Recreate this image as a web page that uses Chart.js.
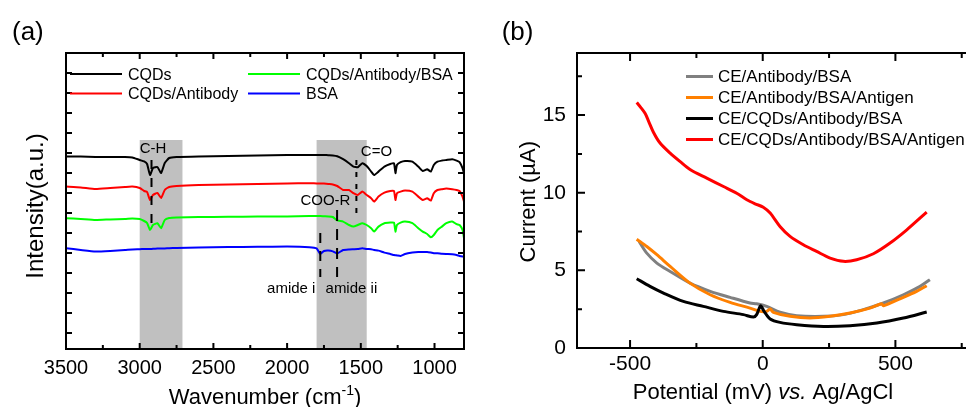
<!DOCTYPE html>
<html><head><meta charset="utf-8">
<script src="https://cdn.jsdelivr.net/npm/chart.js@4.4.0/dist/chart.umd.min.js"></script>
<style>
html,body{margin:0;padding:0;background:#fff;overflow:hidden;width:966px;height:407px;}
#wa{position:absolute;left:0;top:0;width:490px;height:407px;}
#wb{position:absolute;left:490px;top:0;width:520px;height:407px;}
</style></head><body>
<div id="wa"><canvas id="ca" width="490" height="407"></canvas></div>
<div id="wb"><canvas id="cb" width="520" height="407"></canvas></div>
<script>
// ---------- Panel (a): FTIR ----------
const wavenumbers = [3500,3400,3300,3200,3100,3050,3000,2970,2950,2930,2910,2880,2855,2830,2800,2750,2600,2400,2200,2000,1850,1800,1775,1750,1720,1690,1660,1620,1580,1550,1520,1490,1460,1430,1410,1380,1340,1300,1275,1265,1255,1230,1200,1150,1110,1080,1050,1025,1005,980,950,920,880,850,830,810,800];
const cqds = [8.82,8.82,8.80,8.80,8.80,8.78,8.65,8.58,8.45,7.90,8.25,8.30,8.00,8.50,8.75,8.80,8.83,8.85,8.88,8.90,8.90,8.90,8.90,8.90,8.89,8.88,8.84,8.69,8.49,8.32,8.29,8.49,8.35,8.07,7.90,8.07,8.32,8.45,8.49,7.99,8.40,8.54,8.60,8.57,8.32,8.10,8.19,8.07,8.40,8.57,8.62,8.65,8.69,8.62,8.54,8.24,7.99];
const cqdsAntibody = [7.32,7.28,7.20,7.25,7.30,7.32,7.25,7.10,7.05,6.65,6.90,7.00,6.75,7.15,7.30,7.35,7.40,7.43,7.45,7.48,7.49,7.48,7.48,7.47,7.45,7.43,7.35,7.15,7.15,6.99,6.90,7.07,6.90,6.74,6.57,6.82,7.02,7.10,7.10,6.65,6.99,7.07,7.12,7.07,6.82,6.65,6.74,6.62,6.99,7.15,7.19,7.22,7.19,7.15,7.10,6.82,6.57];
const cqdsAntibodyBsa = [5.74,5.70,5.65,5.68,5.70,5.73,5.70,5.60,5.50,5.15,5.40,5.49,5.24,5.65,5.75,5.78,5.80,5.81,5.82,5.82,5.85,5.85,5.85,5.84,5.83,5.80,5.63,5.57,5.40,5.32,5.40,5.49,5.40,5.24,5.07,5.32,5.49,5.52,5.52,5.07,5.40,5.52,5.57,5.49,5.24,5.07,4.95,4.79,4.90,5.15,5.32,5.49,5.57,5.44,5.40,5.15,4.74];
const bsa = [4.24,4.15,4.07,4.10,4.15,4.18,4.19,4.20,4.20,4.20,4.21,4.22,4.23,4.23,4.24,4.25,4.28,4.30,4.31,4.32,4.29,4.23,3.95,4.10,4.12,4.08,3.98,4.15,4.18,4.19,4.20,4.24,4.20,4.19,4.15,4.12,4.02,3.95,3.90,3.89,3.88,3.85,3.95,4.02,4.05,4.05,4.05,4.02,3.99,3.99,3.96,3.95,3.94,3.90,3.85,3.82,3.82];
const ftirLabels = ['CQDs','CQDs/Antibody','CQDs/Antibody/BSA','BSA'];
const ftirColors = ['#000000','#ff0000','#00ff00','#0000ff'];
const ftirXTicks = [3500,3250,3000,2750,2500,2250,2000,1750,1500,1250,1000];
const ftirXLabels = [3500,3000,2500,2000,1500,1000];
const ftirYTicks = [0,1,2,3,4,5,6,7,8,9,10,11,12,13];

// ---------- Panel (b): CV ----------
const abBsaV = [-466,-437,-399,-349,-274,-198,-123,-48,-23,15,65,128,229,304,379,455,530,593,630];
const abBsaI = [6.86,6.11,5.47,4.93,4.18,3.65,3.26,2.90,2.85,2.68,2.30,2.08,2.04,2.15,2.47,2.90,3.43,3.97,4.40];
const abBsaAgV = [-475,-437,-399,-349,-274,-198,-123,-48,-10,15,28,40,103,178,254,329,404,448,455,517,580,618];
const abBsaAgI = [7.01,6.54,6.01,5.26,4.18,3.43,2.94,2.57,2.36,2.36,2.51,2.30,2.04,1.93,2.04,2.25,2.57,2.85,2.72,3.17,3.65,4.01];
const cqdAbBsaV = [-475,-425,-374,-299,-224,-148,-73,-35,-23,-8,5,28,65,128,229,329,430,530,618];
const cqdAbBsaI = [4.46,3.97,3.54,3.00,2.68,2.36,2.15,1.99,2.15,2.72,2.36,1.87,1.65,1.50,1.39,1.44,1.61,1.93,2.32];
const cqdAbBsaAgV = [-475,-460,-443,-430,-412,-387,-349,-311,-274,-211,-148,-98,-60,-29,2,28,65,103,153,203,254,304,354,417,480,543,618];
const cqdAbBsaAgI = [15.81,15.5,15.1,14.6,13.9,13.2,12.55,12.0,11.5,10.94,10.40,9.97,9.55,9.29,9.07,8.69,7.83,7.19,6.65,6.22,5.79,5.58,5.68,6.07,6.76,7.61,8.75];
const cvLabels = ['CE/Antibody/BSA','CE/Antibody/BSA/Antigen','CE/CQDs/Antibody/BSA','CE/CQDs/Antibody/BSA/Antigen'];
const cvColors = ['#808080','#ff8000','#000000','#ff0000'];
const cvXTicks = [-500,-250,0,250,500,750];
const cvXLabels = [-500,0,500];
const cvYTicks = [0,2.5,5,7.5,10,12.5,15,17.5];
const cvYLabels = [0,5,10,15];

const FONT = "'Liberation Sans', Arial, Helvetica, sans-serif";

function isMult(v, s){ return Math.abs(v/s - Math.round(v/s)) < 1e-6; }
function setTicks(list){ return function(s){ s.ticks = list.map(v => ({value:v})); }; }

const frameTicks = {
  id:'frameTicks',
  afterDatasetsDraw(chart, args, o){
    const {ctx, chartArea:a, scales:{x,y}} = chart;
    ctx.save();
    ctx.strokeStyle = '#000';
    ctx.lineWidth = 2;
    ctx.beginPath();
    x.ticks.forEach(t => {
      const v = t.value;
      const len = isMult(v, o.xMajor) ? o.majorLen : o.minorLen;
      const px = x.getPixelForValue(v);
      if (px < a.left + 2 || px > a.right - 2) return;
      ctx.moveTo(px, a.bottom); ctx.lineTo(px, a.bottom - len);
      ctx.moveTo(px, a.top); ctx.lineTo(px, a.top + len);
    });
    y.ticks.forEach(t => {
      const v = t.value;
      const len = isMult(v, o.yMajor) ? o.majorLen : o.minorLen;
      const py = y.getPixelForValue(v);
      if (py < a.top + 2 || py > a.bottom - 2) return;
      ctx.moveTo(a.left, py); ctx.lineTo(a.left + len, py);
      ctx.moveTo(a.right, py); ctx.lineTo(a.right - len, py);
    });
    ctx.stroke();
    ctx.strokeRect(a.left, a.top, a.right - a.left, a.bottom - a.top);
    ctx.restore();
  }
};

const gridLegend = {
  id:'gridLegend',
  afterDraw(chart, args, o){
    const ctx = chart.ctx;
    ctx.save();
    ctx.font = o.fontSize + 'px ' + FONT;
    ctx.textBaseline = 'middle';
    ctx.textAlign = 'left';
    chart.data.datasets.forEach((ds, i) => {
      const col = Math.floor(i / o.rows), row = i % o.rows;
      const x0 = o.cols[col], y0 = o.rowY[row];
      ctx.strokeStyle = ds.borderColor;
      ctx.lineWidth = ds.borderWidth;
      ctx.beginPath(); ctx.moveTo(x0, y0); ctx.lineTo(x0 + o.lineLen, y0); ctx.stroke();
      ctx.fillStyle = '#000';
      ctx.fillText(ds.label, x0 + o.lineLen + o.gap, y0 + o.textDy);
    });
    ctx.restore();
  }
};

function drawParts(ctx, parts, cx, y){
  let total = 0;
  parts.forEach(p => { ctx.font = p.font; p.w = ctx.measureText(p.text).width; total += p.w; });
  let x = cx - total / 2;
  ctx.textAlign = 'left';
  ctx.textBaseline = 'alphabetic';
  parts.forEach(p => { ctx.font = p.font; ctx.fillText(p.text, x, y + (p.dy || 0)); x += p.w; });
}

// annotation layout for panel (a) (in data coordinates)
const bands = [[3000, 2710], [1800, 1460]];
const bandTop = 9.65;
const markers = [
  {x:2920, y1:8.65, y2:5.15, dash:[9,9]},
  {x:1530, y1:8.65, y2:6.0, dash:[5,7]},
  {x:1661, y1:6.15, y2:2.8, dash:[11,8]},
  {x:1775, y1:5.0, y2:2.8, dash:[10,8]}
];
const notes = [
  {text:'C-H', x:2909, y:9.2},
  {text:'C=O', x:1394, y:9.05},
  {text:'COO-R', x:1740, y:6.6},
  {text:'amide i', x:1972, y:2.2},
  {text:'amide ii', x:1564, y:2.2}
];

const ftirDecor = {
  id:'ftirDecor',
  beforeDatasetsDraw(chart){
    const {ctx, chartArea:a, scales:{x,y}} = chart;
    ctx.save();
    ctx.fillStyle = '#c0c0c0';
    const top = y.getPixelForValue(bandTop);
    bands.forEach(b => {
      const x1 = x.getPixelForValue(b[0]), x2 = x.getPixelForValue(b[1]);
      ctx.fillRect(Math.min(x1,x2), top, Math.abs(x2-x1), a.bottom - top);
    });
    ctx.restore();
  },
  afterDatasetsDraw(chart){
    const {ctx, scales:{x,y}} = chart;
    ctx.save();
    ctx.strokeStyle = '#000';
    ctx.lineWidth = 2;
    markers.forEach(m => {
      ctx.setLineDash(m.dash);
      const px = x.getPixelForValue(m.x);
      ctx.beginPath(); ctx.moveTo(px, y.getPixelForValue(m.y1)); ctx.lineTo(px, y.getPixelForValue(m.y2)); ctx.stroke();
    });
    ctx.setLineDash([]);
    ctx.fillStyle = '#000';
    ctx.font = '15px ' + FONT;
    ctx.textAlign = 'center';
    ctx.textBaseline = 'middle';
    notes.forEach(n => ctx.fillText(n.text, x.getPixelForValue(n.x), y.getPixelForValue(n.y)));
    ctx.restore();
  },
  afterDraw(chart){
    const ctx = chart.ctx;
    ctx.save();
    ctx.fillStyle = '#000';
    ctx.font = '26px ' + FONT;
    ctx.textAlign = 'left'; ctx.textBaseline = 'alphabetic';
    ctx.fillText('(a)', 12, 39.5);
    drawParts(ctx, [
      {text:'Wavenumber (cm', font:'22px ' + FONT},
      {text:'-1', font:'14px ' + FONT, dy:-9},
      {text:')', font:'22px ' + FONT}
    ], 265, 404);
    ctx.translate(43, 206);
    ctx.rotate(-Math.PI / 2);
    ctx.font = '24px ' + FONT;
    ctx.textAlign = 'center';
    ctx.fillText('Intensity(a.u.)', 0, 0);
    ctx.restore();
  }
};

const cvDecor = {
  id:'cvDecor',
  afterDraw(chart){
    const ctx = chart.ctx;
    ctx.save();
    ctx.fillStyle = '#000';
    ctx.font = '26px ' + FONT;
    ctx.textAlign = 'left'; ctx.textBaseline = 'alphabetic';
    ctx.fillText('(b)', 11.7, 39.5);
    drawParts(ctx, [
      {text:'Potential (mV) ', font:'22px ' + FONT},
      {text:'vs.', font:'italic 22px ' + FONT},
      {text:' Ag/AgCl', font:'22px ' + FONT}
    ], 273, 398.5);
    ctx.translate(45.4, 201.7);
    ctx.rotate(-Math.PI / 2);
    ctx.font = '22px ' + FONT;
    ctx.textAlign = 'center';
    ctx.fillText('Current (\u00b5A)', 0, 0);
    ctx.restore();
  }
};

const ftirSeries = [cqds, cqdsAntibody, cqdsAntibodyBsa, bsa];
new Chart(document.getElementById('ca'), {
  type:'line',
  data:{ datasets: ftirSeries.map((s, i) => ({
    label: ftirLabels[i],
    data: wavenumbers.map((w, j) => ({x:w, y:s[j]})),
    borderColor: ftirColors[i], borderWidth:2, pointRadius:0, tension:0.15, fill:false
  })) },
  options:{
    responsive:false, animation:false, devicePixelRatio:1,
    layout:{padding:{left:0, right:26, top:53, bottom:0}},
    plugins:{
      legend:{display:false}, tooltip:{enabled:false},
      frameTicks:{xMajor:500, yMajor:1, majorLen:6, minorLen:4},
      gridLegend:{rows:2, cols:[70, 248], rowY:[74, 93.5], lineLen:52, gap:6, fontSize:16, textDy:1.5}
    },
    scales:{
      x:{type:'linear', reverse:true, min:800, max:3500,
         border:{display:false}, grid:{display:false, drawTicks:false},
         afterBuildTicks: setTicks(ftirXTicks),
         ticks:{autoSkip:false, maxRotation:0, padding:7, color:'#000',
                font:{family:FONT, size:20},
                callback: v => ftirXLabels.includes(v) ? String(v) : ''},
         afterFit(s){ s.height = 58; }},
      y:{type:'linear', min:-0.8, max:14,
         border:{display:false}, grid:{display:false, drawTicks:false},
         afterBuildTicks: setTicks(ftirYTicks),
         ticks:{display:false},
         afterFit(s){ s.width = 66; }}
    }
  },
  plugins:[ftirDecor, frameTicks, gridLegend]
});

const cvV = [abBsaV, abBsaAgV, cqdAbBsaV, cqdAbBsaAgV];
const cvI = [abBsaI, abBsaAgI, cqdAbBsaI, cqdAbBsaAgI];
const cvOrder = [4, 3, 2, 1];
new Chart(document.getElementById('cb'), {
  type:'line',
  data:{ datasets: cvV.map((vs, i) => ({
    label: cvLabels[i],
    data: vs.map((v, j) => ({x:v, y:cvI[i][j]})),
    borderColor: cvColors[i], borderWidth:3, pointRadius:0, tension:0.3, fill:false, order: cvOrder[i]
  })) },
  options:{
    responsive:false, animation:false, devicePixelRatio:1,
    layout:{padding:{left:0, right:35, top:53, bottom:0}},
    plugins:{
      legend:{display:false}, tooltip:{enabled:false},
      frameTicks:{xMajor:500, yMajor:5, majorLen:8, minorLen:5},
      gridLegend:{rows:4, cols:[196], rowY:[76.5, 97.5, 118.5, 139.5], lineLen:27, gap:5, fontSize:17, textDy:1}
    },
    scales:{
      x:{type:'linear', min:-700, max:800,
         border:{display:false}, grid:{display:false, drawTicks:false},
         afterBuildTicks: setTicks(cvXTicks),
         ticks:{autoSkip:false, maxRotation:0, padding:4, color:'#000',
                font:{family:FONT, size:21},
                callback: v => cvXLabels.includes(v) ? String(v) : ''},
         afterFit(s){ s.height = 59; }},
      y:{type:'linear', min:0, max:19,
         border:{display:false}, grid:{display:false, drawTicks:false},
         afterBuildTicks: setTicks(cvYTicks),
         ticks:{autoSkip:false, padding:11, color:'#000',
                font:{family:FONT, size:21},
                callback: v => cvYLabels.includes(v) ? String(v) : ''},
         afterFit(s){ s.width = 87; }}
    }
  },
  plugins:[frameTicks, gridLegend, cvDecor]
});
</script>
</body></html>
